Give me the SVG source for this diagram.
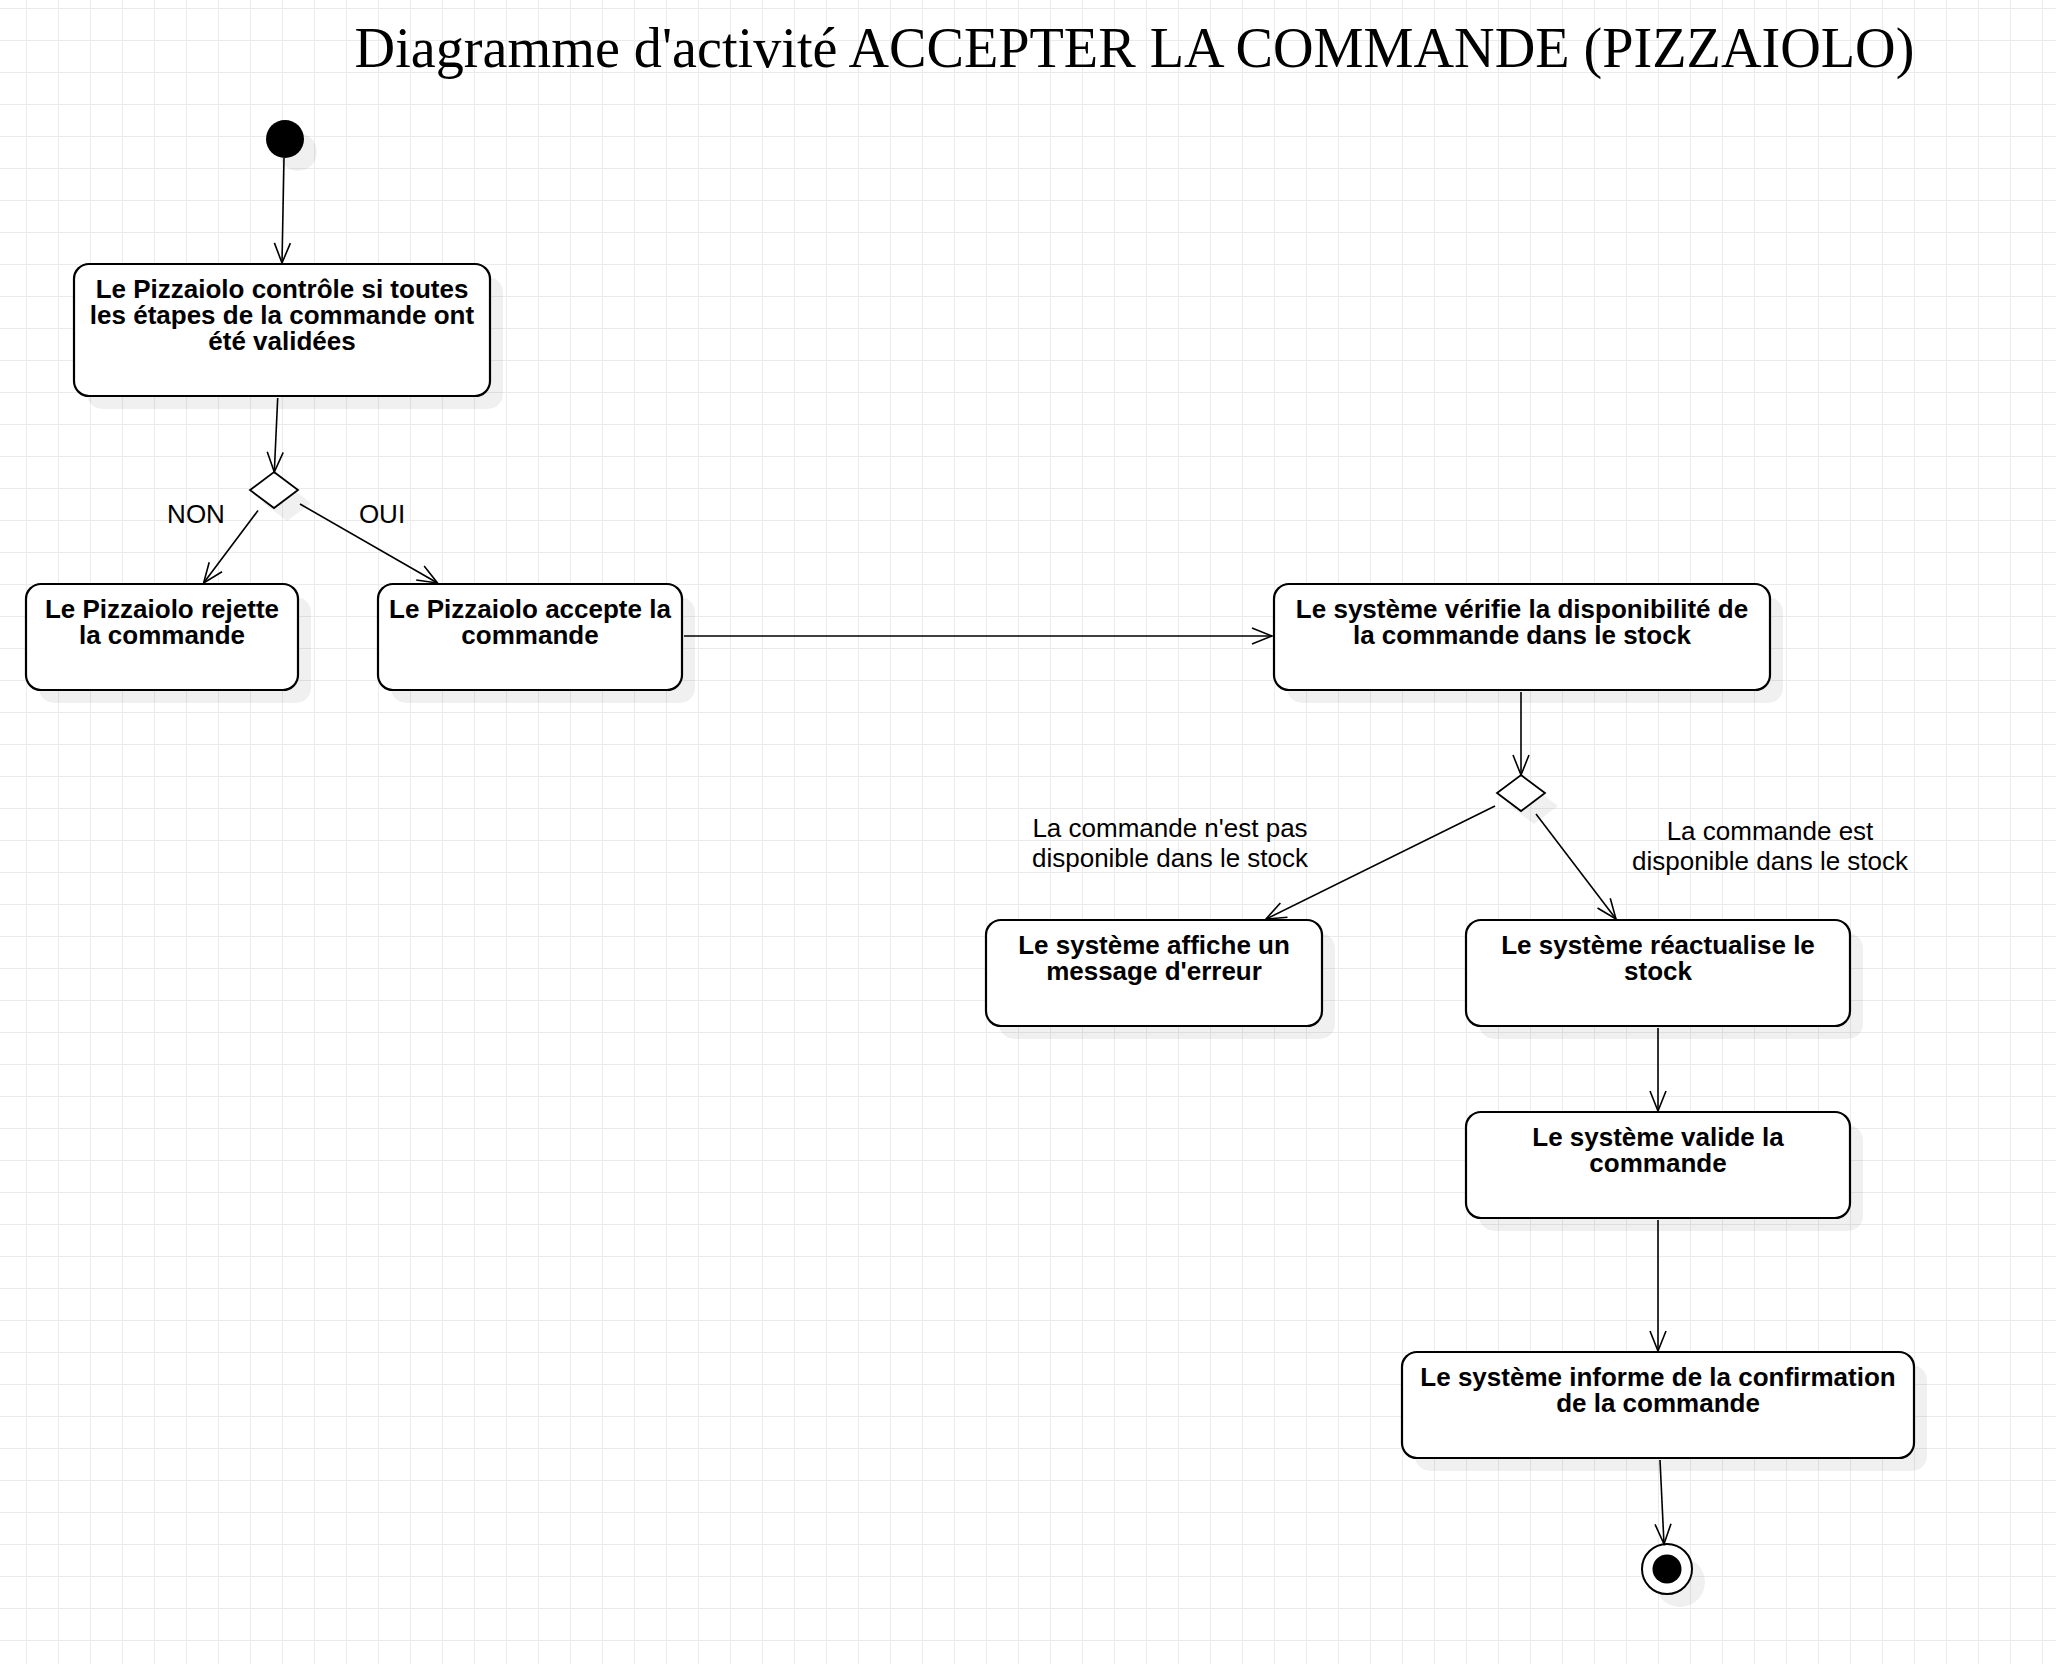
<svg xmlns="http://www.w3.org/2000/svg" width="2056" height="1664" viewBox="0 0 2056 1664">
<style>
.box{fill:#fff;stroke:#000;stroke-width:2.2}
.shd{fill:#000;fill-opacity:0.06;stroke:none}
.bt{font-family:"Liberation Sans",Arial,sans-serif;font-weight:bold;font-size:26px;text-anchor:middle;fill:#000}
.lt{font-family:"Liberation Sans",Arial,sans-serif;font-size:26px;text-anchor:middle;fill:#000}
.edge{fill:none;stroke:#000;stroke-width:1.6}
.title{font-family:"Liberation Serif","Times New Roman",serif;font-size:56.2px;text-anchor:middle;fill:#000}
</style>
<defs>
<pattern id="grid" x="26" y="8" width="32" height="32" patternUnits="userSpaceOnUse">
<path d="M0 0.5H32M0.5 0V32" stroke="#ebebeb" stroke-width="1" fill="none"/>
</pattern>
<marker id="arr" viewBox="-22 -10 24 20" refX="0" refY="0" markerWidth="24" markerHeight="20" markerUnits="userSpaceOnUse" orient="auto">
<path d="M-20 -8L0 0L-20 8" fill="none" stroke="#000" stroke-width="1.6"/>
</marker>
</defs>
<rect width="2056" height="1664" fill="#fff"/>
<rect width="2056" height="1664" fill="url(#grid)"/>
<text class="title" x="1134.5" y="67">Diagramme d'activité ACCEPTER LA COMMANDE (PIZZAIOLO)</text>

<g id="start">
<circle class="shd" cx="298" cy="152" r="19"/>
<circle cx="285" cy="139" r="19" fill="#000"/>
</g>
<g id="n1">
<rect class="shd" x="87" y="277" width="416" height="132" rx="15"/>
<rect class="box" x="74" y="264" width="416" height="132" rx="15"/>
<text class="bt"><tspan x="282" y="298">Le Pizzaiolo contrôle si toutes</tspan><tspan x="282" y="324">les étapes de la commande ont</tspan><tspan x="282" y="350">été validées</tspan></text>
</g>
<g id="d1">
<path class="shd" d="M287 485L311 503L287 521L263 503Z"/>
<path d="M274 472L298 490L274 508L250 490Z" fill="#fff" stroke="#000" stroke-width="1.8"/>
</g>
<g id="n2">
<rect class="shd" x="39" y="597" width="272" height="106" rx="15"/>
<rect class="box" x="26" y="584" width="272" height="106" rx="15"/>
<text class="bt"><tspan x="162" y="618">Le Pizzaiolo rejette</tspan><tspan x="162" y="644">la commande</tspan></text>
</g>
<g id="n3">
<rect class="shd" x="391" y="597" width="304" height="106" rx="15"/>
<rect class="box" x="378" y="584" width="304" height="106" rx="15"/>
<text class="bt"><tspan x="530" y="618">Le Pizzaiolo accepte la</tspan><tspan x="530" y="644">commande</tspan></text>
</g>
<g id="n4">
<rect class="shd" x="1287" y="597" width="496" height="106" rx="15"/>
<rect class="box" x="1274" y="584" width="496" height="106" rx="15"/>
<text class="bt"><tspan x="1522" y="618">Le système vérifie la disponibilité de</tspan><tspan x="1522" y="644">la commande dans le stock</tspan></text>
</g>
<g id="d2">
<path class="shd" d="M1534 788L1558 806L1534 824L1510 806Z"/>
<path d="M1521 775L1545 793L1521 811L1497 793Z" fill="#fff" stroke="#000" stroke-width="1.8"/>
</g>
<g id="n5">
<rect class="shd" x="999" y="933" width="336" height="106" rx="15"/>
<rect class="box" x="986" y="920" width="336" height="106" rx="15"/>
<text class="bt"><tspan x="1154" y="954">Le système affiche un</tspan><tspan x="1154" y="980">message d'erreur</tspan></text>
</g>
<g id="n6">
<rect class="shd" x="1479" y="933" width="384" height="106" rx="15"/>
<rect class="box" x="1466" y="920" width="384" height="106" rx="15"/>
<text class="bt"><tspan x="1658" y="954">Le système réactualise le</tspan><tspan x="1658" y="980">stock</tspan></text>
</g>
<g id="n7">
<rect class="shd" x="1479" y="1125" width="384" height="106" rx="15"/>
<rect class="box" x="1466" y="1112" width="384" height="106" rx="15"/>
<text class="bt"><tspan x="1658" y="1146">Le système valide la</tspan><tspan x="1658" y="1172">commande</tspan></text>
</g>
<g id="n8">
<rect class="shd" x="1415" y="1365" width="512" height="106" rx="15"/>
<rect class="box" x="1402" y="1352" width="512" height="106" rx="15"/>
<text class="bt"><tspan x="1658" y="1386">Le système informe de la confirmation</tspan><tspan x="1658" y="1412">de la commande</tspan></text>
</g>
<g id="end">
<circle class="shd" cx="1680" cy="1582" r="25"/>
<circle cx="1667" cy="1569" r="25" fill="#fff" stroke="#000" stroke-width="2"/>
<circle cx="1667" cy="1569" r="14.5" fill="#000"/>
</g>

<g id="connectors">
<path class="edge" d="M284 158L282 263" marker-end="url(#arr)"/>
<path class="edge" d="M277.7 398L274.3 472" marker-end="url(#arr)"/>
<path class="edge" d="M258 510.5L203.6 583" marker-end="url(#arr)"/>
<path class="edge" d="M300 504L437.5 583" marker-end="url(#arr)"/>
<path class="edge" d="M684 636L1272 636" marker-end="url(#arr)"/>
<path class="edge" d="M1521 692L1521 775" marker-end="url(#arr)"/>
<path class="edge" d="M1495 806L1266 919" marker-end="url(#arr)"/>
<path class="edge" d="M1536 814L1616 919" marker-end="url(#arr)"/>
<path class="edge" d="M1658 1028L1658 1111" marker-end="url(#arr)"/>
<path class="edge" d="M1658 1220L1658 1351" marker-end="url(#arr)"/>
<path class="edge" d="M1660 1460L1664 1544" marker-end="url(#arr)"/>
<text class="lt" x="196" y="523">NON</text>
<text class="lt" x="382" y="523">OUI</text>
<text class="lt" x="1170" y="837">La commande n'est pas</text>
<text class="lt" x="1170" y="867">disponible dans le stock</text>
<text class="lt" x="1770" y="840">La commande est</text>
<text class="lt" x="1770" y="870">disponible dans le stock</text>
</g>
</svg>
